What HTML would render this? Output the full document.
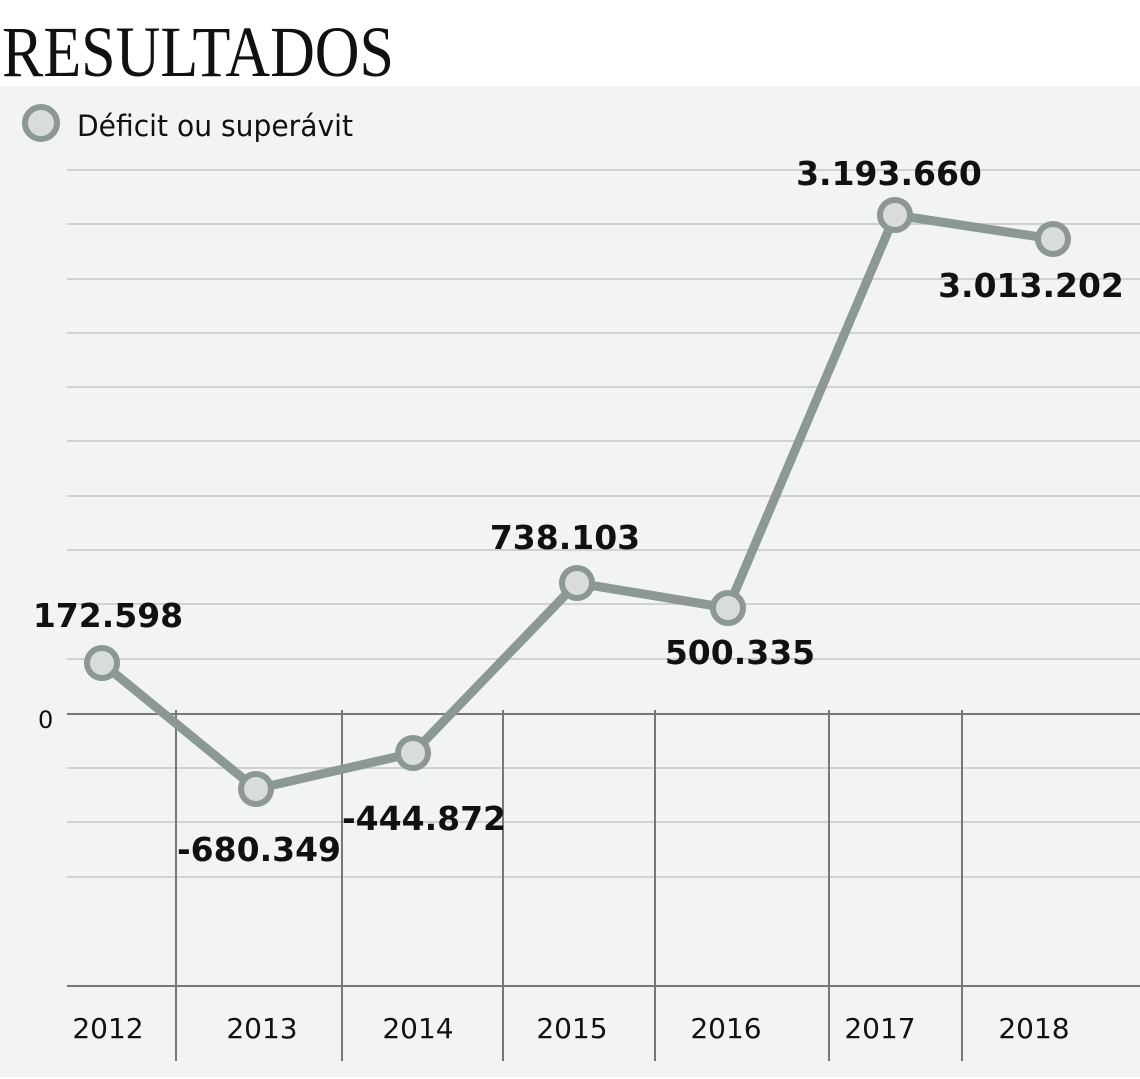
<!DOCTYPE html>
<html><head><meta charset="utf-8"><style>
body{margin:0;width:1140px;height:1079px;background:#fff;overflow:hidden}
svg{display:block}
</style></head><body>
<svg width="1140" height="1079" xmlns="http://www.w3.org/2000/svg">
<rect x="0" y="86" width="1140" height="991" fill="#f2f3f5"/>
<text x="2" y="76" font-family="Liberation Serif, serif" font-size="72" fill="#111" textLength="392" lengthAdjust="spacingAndGlyphs">RESULTADOS</text>
<circle cx="41" cy="123" r="16" fill="#d8dcda" stroke="#8b9894" stroke-width="6"/>
<text x="77" y="136" font-family="DejaVu Sans, sans-serif" font-size="29" fill="#111" textLength="276" lengthAdjust="spacingAndGlyphs">Déficit ou superávit</text>
<g stroke="#cfd1d3" stroke-width="2">
<line x1="67" y1="170" x2="1140" y2="170"/><line x1="67" y1="224" x2="1140" y2="224"/>
<line x1="67" y1="279" x2="1140" y2="279"/><line x1="67" y1="333" x2="1140" y2="333"/>
<line x1="67" y1="387" x2="1140" y2="387"/><line x1="67" y1="441" x2="1140" y2="441"/>
<line x1="67" y1="496" x2="1140" y2="496"/><line x1="67" y1="550" x2="1140" y2="550"/>
<line x1="67" y1="604" x2="1140" y2="604"/><line x1="67" y1="659" x2="1140" y2="659"/>
<line x1="67" y1="768" x2="1140" y2="768"/><line x1="67" y1="822" x2="1140" y2="822"/>
<line x1="67" y1="877" x2="1140" y2="877"/>
</g>
<g stroke="#777" stroke-width="2">
<line x1="67" y1="714" x2="1140" y2="714"/>
<line x1="67" y1="986" x2="1140" y2="986"/>
<line x1="176" y1="710" x2="176" y2="1061"/><line x1="342" y1="710" x2="342" y2="1061"/>
<line x1="503" y1="710" x2="503" y2="1061"/><line x1="655" y1="710" x2="655" y2="1061"/>
<line x1="829" y1="710" x2="829" y2="1061"/><line x1="962" y1="710" x2="962" y2="1061"/>
</g>
<text x="38" y="728" font-family="DejaVu Sans, sans-serif" font-size="24" fill="#111">0</text>
<polyline points="102,663 256,789 413,753 577,583 728,608 895,215 1053,239" fill="none" stroke="#8b9894" stroke-width="9" stroke-linejoin="round"/>
<g fill="#d8dcda" stroke="#8b9894" stroke-width="6">
<circle cx="102" cy="663" r="15"/><circle cx="256" cy="789" r="15"/><circle cx="413" cy="753" r="15"/>
<circle cx="577" cy="583" r="15"/><circle cx="728" cy="608" r="15"/><circle cx="895" cy="215" r="15"/><circle cx="1053" cy="239" r="15"/>
</g>
<g font-family="DejaVu Sans, sans-serif" font-size="33" font-weight="bold" fill="#111" text-anchor="middle">
<text x="108" y="627">172.598</text>
<text x="259" y="861">-680.349</text>
<text x="424" y="830">-444.872</text>
<text x="565" y="549">738.103</text>
<text x="740" y="664">500.335</text>
<text x="889" y="185">3.193.660</text>
<text x="1031" y="297">3.013.202</text>
</g>
<g font-family="DejaVu Sans, sans-serif" font-size="28" fill="#111" text-anchor="middle">
<text x="108" y="1038">2012</text><text x="262" y="1038">2013</text><text x="418" y="1038">2014</text>
<text x="572" y="1038">2015</text><text x="726" y="1038">2016</text><text x="880" y="1038">2017</text><text x="1034" y="1038">2018</text>
</g>
</svg>
</body></html>
